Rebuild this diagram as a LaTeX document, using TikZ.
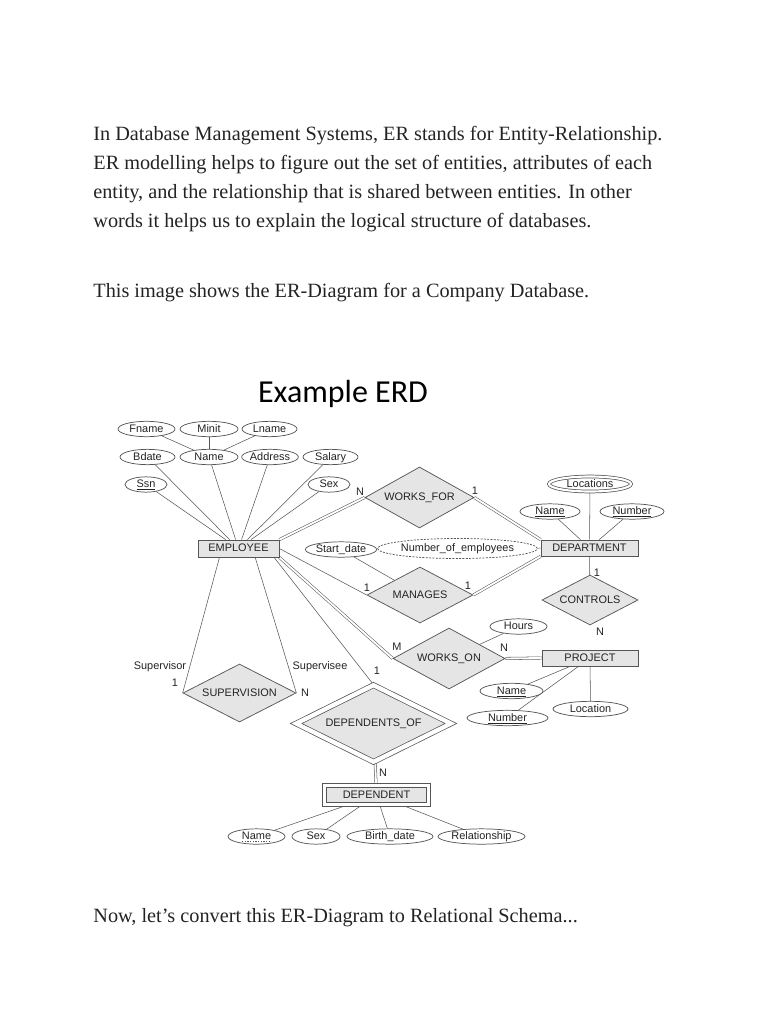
\documentclass[tikz,border=0pt]{standalone}
\usepackage{fontspec}
\setmainfont{Liberation Serif}
\newfontfamily\erfont{Liberation Sans}
\newfontfamily\titlefont{Carlito}
\usetikzlibrary{shapes.geometric, backgrounds}
\definecolor{linegray}{RGB}{85,85,85}
\definecolor{boxgray}{RGB}{229,229,229}
\definecolor{inkgray}{RGB}{35,35,35}

\begin{document}
\begin{tikzpicture}[
    x=0.75pt, y=-0.75pt, line width=0.55pt,
    every node/.style={font=\erfont\fontsize{8.2}{9}\selectfont, text=inkgray},
    attr/.style={ellipse, draw=linegray, fill=white, minimum height=11.5pt, inner sep=0pt,
                 text height=6pt, text depth=1.5pt},
    multi/.style={attr, double, double distance=1.6pt},
    derived/.style={attr, dashed, dash pattern=on 1.5pt off 1pt},
    entity/.style={rectangle, draw=linegray, fill=boxgray, minimum width=72pt,
                   minimum height=12pt, inner sep=0pt, text height=6pt, text depth=1.5pt},
    weak/.style={entity, double, double distance=2.4pt},
    rel/.style={diamond, draw=linegray, fill=boxgray, inner sep=0pt, aspect=1.8,
                text height=6pt, text depth=1.5pt},
    weakrel/.style={rel, double, double distance=3.2pt},
    card/.style={inner sep=0pt},
    link/.style={draw=linegray},
    total/.style={link, double, double distance=1.4pt},
    bodytext/.style={anchor=base west, inner sep=0pt, font=\fontsize{15.2}{18}\selectfont}
]
    \useasboundingbox (0,0) rectangle (768,1024);

    % text around the diagram
    \node[bodytext] (intro1) at (93,140) {In Database Management Systems, ER stands for Entity-Relationship.};
    \node[bodytext] (intro2) at (93,169) {ER modelling helps to figure out the set of entities, attributes of each};
    \node[bodytext] (intro3) at (93,198) {entity, and the relationship that is shared between entities. In other};
    \node[bodytext] (intro4) at (93,227) {words it helps us to explain the logical structure of databases.};
    \node[bodytext] (shows) at (93,297) {This image shows the ER-Diagram for a Company Database.};
    \node[bodytext] (outro) at (93,922) {Now, let's convert this ER-Diagram to Relational Schema...};
    \node[font=\titlefont\fontsize{24}{28}\selectfont, text=black] (title) at (343,394) {Example ERD};

    % EMPLOYEE and its attributes
    \node[attr, minimum width=42.75pt] (fname) at (146.5,429) {Fname};
    \node[attr, minimum width=43.5pt] (minit) at (209,429) {Minit};
    \node[attr, minimum width=41.25pt] (lname) at (269.5,429) {Lname};
    \node[attr, minimum width=41.25pt] (bdate) at (147.5,457) {Bdate};
    \node[attr, minimum width=43.5pt] (ename) at (209,457) {Name};
    \node[attr, minimum width=42pt] (address) at (270,457) {Address};
    \node[attr, minimum width=41.25pt] (salary) at (330.5,457) {Salary};
    \node[attr, minimum width=31.5pt] (ssn) at (146,484.5) {\underline{Ssn}};
    \node[attr, minimum width=31.5pt] (sex) at (329,484.5) {Sex};
    \node[entity, minimum width=60.75pt, minimum height=12.75pt] (employee) at (238.5,548.5) {EMPLOYEE};

    % DEPARTMENT side
    \node[rel, minimum width=81.75pt, minimum height=45.75pt] (worksfor) at (419.5,497.5) {WORKS\_FOR};
    \node[multi, minimum width=61.5pt, minimum height=11.25pt] (locations) at (590,484) {Locations};
    \node[attr, minimum width=45pt] (dname) at (550,511.5) {\underline{Name}};
    \node[attr, minimum width=48pt] (dnumber) at (632,511.5) {\underline{Number}};
    \node[entity, minimum width=72.75pt] (department) at (589.5,548) {DEPARTMENT};
    \node[attr, minimum width=46.5pt] (startdate) at (341,549.5) {Start\_date};
    \node[derived, minimum width=98.25pt, minimum height=15pt] (numemp) at (457.5,548.5) {Number\_of\_employees};
    \node[rel, minimum width=79.5pt, minimum height=42pt] (manages) at (420,595) {MANAGES};
    \node[rel, minimum width=72pt, minimum height=37.5pt] (controls) at (590,600) {CONTROLS};

    % PROJECT side
    \node[attr, minimum width=42.75pt] (hours) at (518.5,626.5) {Hours};
    \node[rel, minimum width=84pt, minimum height=45.75pt] (workson) at (449,658.5) {WORKS\_ON};
    \node[entity] (project) at (590,658) {PROJECT};
    \node[attr, minimum width=47.25pt] (pname) at (511.5,691) {\underline{Name}};
    \node[attr, minimum width=60.75pt] (pnumber) at (507.5,718) {\underline{Number}};
    \node[attr, minimum width=56.25pt] (location) at (590.5,709) {Location};

    % supervision and dependents
    \node[rel, minimum width=84.75pt, minimum height=43.5pt] (supervision) at (239.5,693) {SUPERVISION};
    \node[weakrel, minimum width=116.25pt, minimum height=57.75pt] (depof) at (373.5,723.5) {DEPENDENTS\_OF};
    \node[weak, minimum width=78pt, minimum height=14.25pt] (dependent) at (376.5,795) {DEPENDENT};
    \node[attr, minimum width=42.75pt] (dpname) at (256.5,836.5) {Name};
    \node[attr, minimum width=36pt] (dsex) at (316,836.5) {Sex};
    \node[attr, minimum width=64.5pt] (birthdate) at (390,836.5) {Birth\_date};
    \node[attr, minimum width=65.25pt] (relationship) at (481.5,836.5) {Relationship};
    % partial key
    \draw[linegray, dash pattern=on 1.2pt off 0.8pt]
        ([xshift=-11pt, yshift=-1.4pt]dpname.base) -- ([xshift=11pt, yshift=-1.4pt]dpname.base);

    % cardinalities and roles
    \node[card] (wfN) at (360,492) {N};
    \node[card] (wf1) at (475,491) {1};
    \node[card] (mgE) at (367,588) {1};
    \node[card] (mgD) at (468,586) {1};
    \node[card] (ctD) at (597,573) {1};
    \node[card] (ctP) at (600,632) {N};
    \node[card] (woM) at (397,647) {M};
    \node[card] (woN) at (504,648) {N};
    \node[card] (suprole) at (160,667) {Supervisor};
    \node[card] (sup1) at (175,683) {1};
    \node[card] (subrole) at (320,667) {Supervisee};
    \node[card] (supN) at (305,693) {N};
    \node[card] (dof1) at (377,671) {1};
    \node[card] (dofN) at (383,773) {N};

    \begin{scope}[on background layer]
        \foreach \a in {fname,minit,lname} \draw[link] (\a) -- (ename);
        \foreach \a in {bdate,ename,address,salary,ssn,sex} \draw[link] (\a) -- (employee);
        \draw[total] (employee.north east) -- (worksfor.west);
        \draw[total] (worksfor.east) -- (department.north west);
        \draw[link] (employee.east) -- (manages.west);
        \draw[total] (manages.east) -- (department.south west);
        \draw[link] (startdate) -- (manages);
        \draw[link] (numemp) -- (department);
        \foreach \a in {locations,dname,dnumber} \draw[link] (\a) -- (department);
        \draw[link] (department) -- (controls);
        \draw[total] (controls) -- (project);
        \draw[total] (employee.south east) -- (workson.west);
        \draw[total] (workson.east) -- (project.west);
        \draw[link] (hours) -- (workson);
        \foreach \a in {pname,pnumber,location} \draw[link] (\a) -- (project);
        \draw[link] (employee.205) -- (supervision.west);
        \draw[link] (employee.332) -- (supervision.east);
        \draw[link] (employee.-14) -- (depof.north);
        \draw[total] (depof) -- (dependent);
        \foreach \a in {dpname,dsex,birthdate,relationship} \draw[link] (\a) -- (dependent);
    \end{scope}
\end{tikzpicture}
\end{document}
